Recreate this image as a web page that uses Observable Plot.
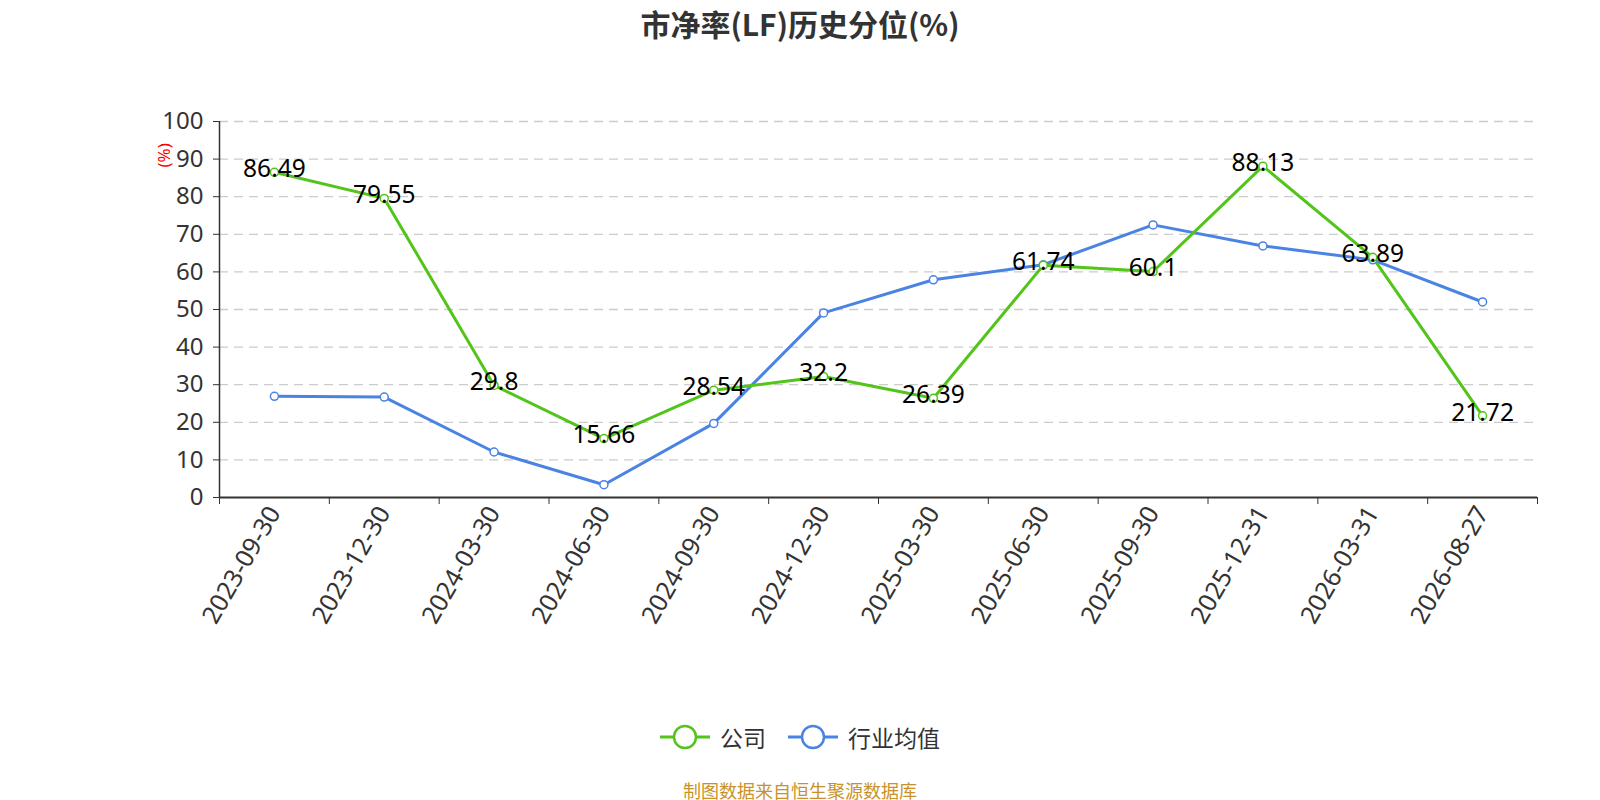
<!DOCTYPE html>
<html><head><meta charset="utf-8">
<script src="https://cdn.jsdelivr.net/npm/d3@7"></script>
<script src="https://cdn.jsdelivr.net/npm/@observablehq/plot@0.6"></script>
<style>
body{margin:0;background:#fff;overflow:hidden;font-family:"Noto Sans CJK SC","Noto Sans",sans-serif;}
#title{height:46px;line-height:46px;text-align:center;font-size:30px;font-weight:bold;color:#333;}
#chart svg{display:block;}
#legend{height:62px;display:flex;justify-content:center;align-items:center;gap:22px;font-size:23px;color:#333;}
#legend .item{display:flex;align-items:center;}
#legend .item span{margin-left:10px;}
#caption{height:32px;line-height:44px;text-align:center;font-size:18px;color:#c8922a;}
</style></head><body>
<div id="title">市净率(LF)历史分位(%)</div>
<div id="chart"></div>
<div id="legend"></div>
<div id="caption">制图数据来自恒生聚源数据库</div>
<script>
const dates = ["2023-09-30","2023-12-30","2024-03-30","2024-06-30","2024-09-30","2024-12-30","2025-03-30","2025-06-30","2025-09-30","2025-12-31","2026-03-31","2026-08-27"];
const company = [86.49, 79.55, 29.8, 15.66, 28.54, 32.2, 26.39, 61.74, 60.1, 88.13, 63.89, 21.72];
const industry = [26.9, 26.7, 12.1, 3.4, 19.7, 49.1, 57.9, 61.9, 72.5, 66.9, 63.2, 52.0];
const yTicks = [0, 10, 20, 30, 40, 50, 60, 70, 80, 90, 100];
const seriesNames = ["公司", "行业均值"];
const seriesColors = ["#52c41a", "#4b83e3"];

const idx = d3.range(dates.length);
const comp = idx.map(i => ({i, v: company[i]}));
const ind = idx.map(i => ({i, v: industry[i]}));
const green = seriesColors[0], blue = seriesColors[1];

const chart = Plot.plot({
  width: 1600, height: 660,
  marginLeft: 219, marginRight: 63, marginTop: 75, marginBottom: 209,
  x: {type: "linear", domain: [-0.5, dates.length - 0.5]},
  y: {domain: [0, 100]},
  style: {fontFamily: "'Noto Sans', sans-serif", background: "#fff", overflow: "visible"},
  marks: [
    Plot.gridY(yTicks.filter(t => t > 0), {stroke: "#ccc", strokeOpacity: 1, strokeDasharray: "9,6", strokeWidth: 1.3}),
    Plot.axisY(yTicks, {tickSize: 6, tickPadding: 10, fontSize: 24, color: "#333", label: null}),
    Plot.ruleX([-0.5], {stroke: "#333", strokeWidth: 1.5}),
    Plot.ruleY([0], {stroke: "#333", strokeWidth: 2}),
    Plot.axisX(d3.range(-0.5, dates.length, 1), {tickSize: 7, tickFormat: () => "", label: null, color: "#333"}),
    Plot.axisX(idx, {tickSize: 0, tickPadding: 11, tickRotate: -60, textAnchor: "end", tickFormat: i => dates[i], fontSize: 25, label: null, color: "#333"}),
    Plot.line(ind, {x: "i", y: "v", stroke: blue, strokeWidth: 3}),
    Plot.line(comp, {x: "i", y: "v", stroke: green, strokeWidth: 3}),
    Plot.dot(ind, {x: "i", y: "v", r: 4, fill: "#fff", stroke: blue, strokeWidth: 1.5}),
    Plot.dot(comp, {x: "i", y: "v", r: 4, fill: "#fff", stroke: green, strokeWidth: 1.5}),
    Plot.text(comp, {x: "i", y: "v", text: d => String(d.v), fontSize: 24.5, fill: "#000", dy: -3}),
    Plot.text(["(%)"], {frameAnchor: "top-left", dx: -62, dy: 46, rotate: -90, fill: "red", fontSize: 17})
  ]
});
document.getElementById("chart").appendChild(chart);

const legend = document.getElementById("legend");
seriesNames.forEach((name, k) => {
  const item = document.createElement("div");
  item.className = "item";
  item.innerHTML = `<svg width="50" height="28"><line x1="0" x2="50" y1="14" y2="14" stroke="${seriesColors[k]}" stroke-width="3"/><circle cx="25" cy="14" r="11" fill="#fff" stroke="${seriesColors[k]}" stroke-width="2.5"/></svg><span>${name}</span>`;
  legend.appendChild(item);
});
</script>
</body></html>
